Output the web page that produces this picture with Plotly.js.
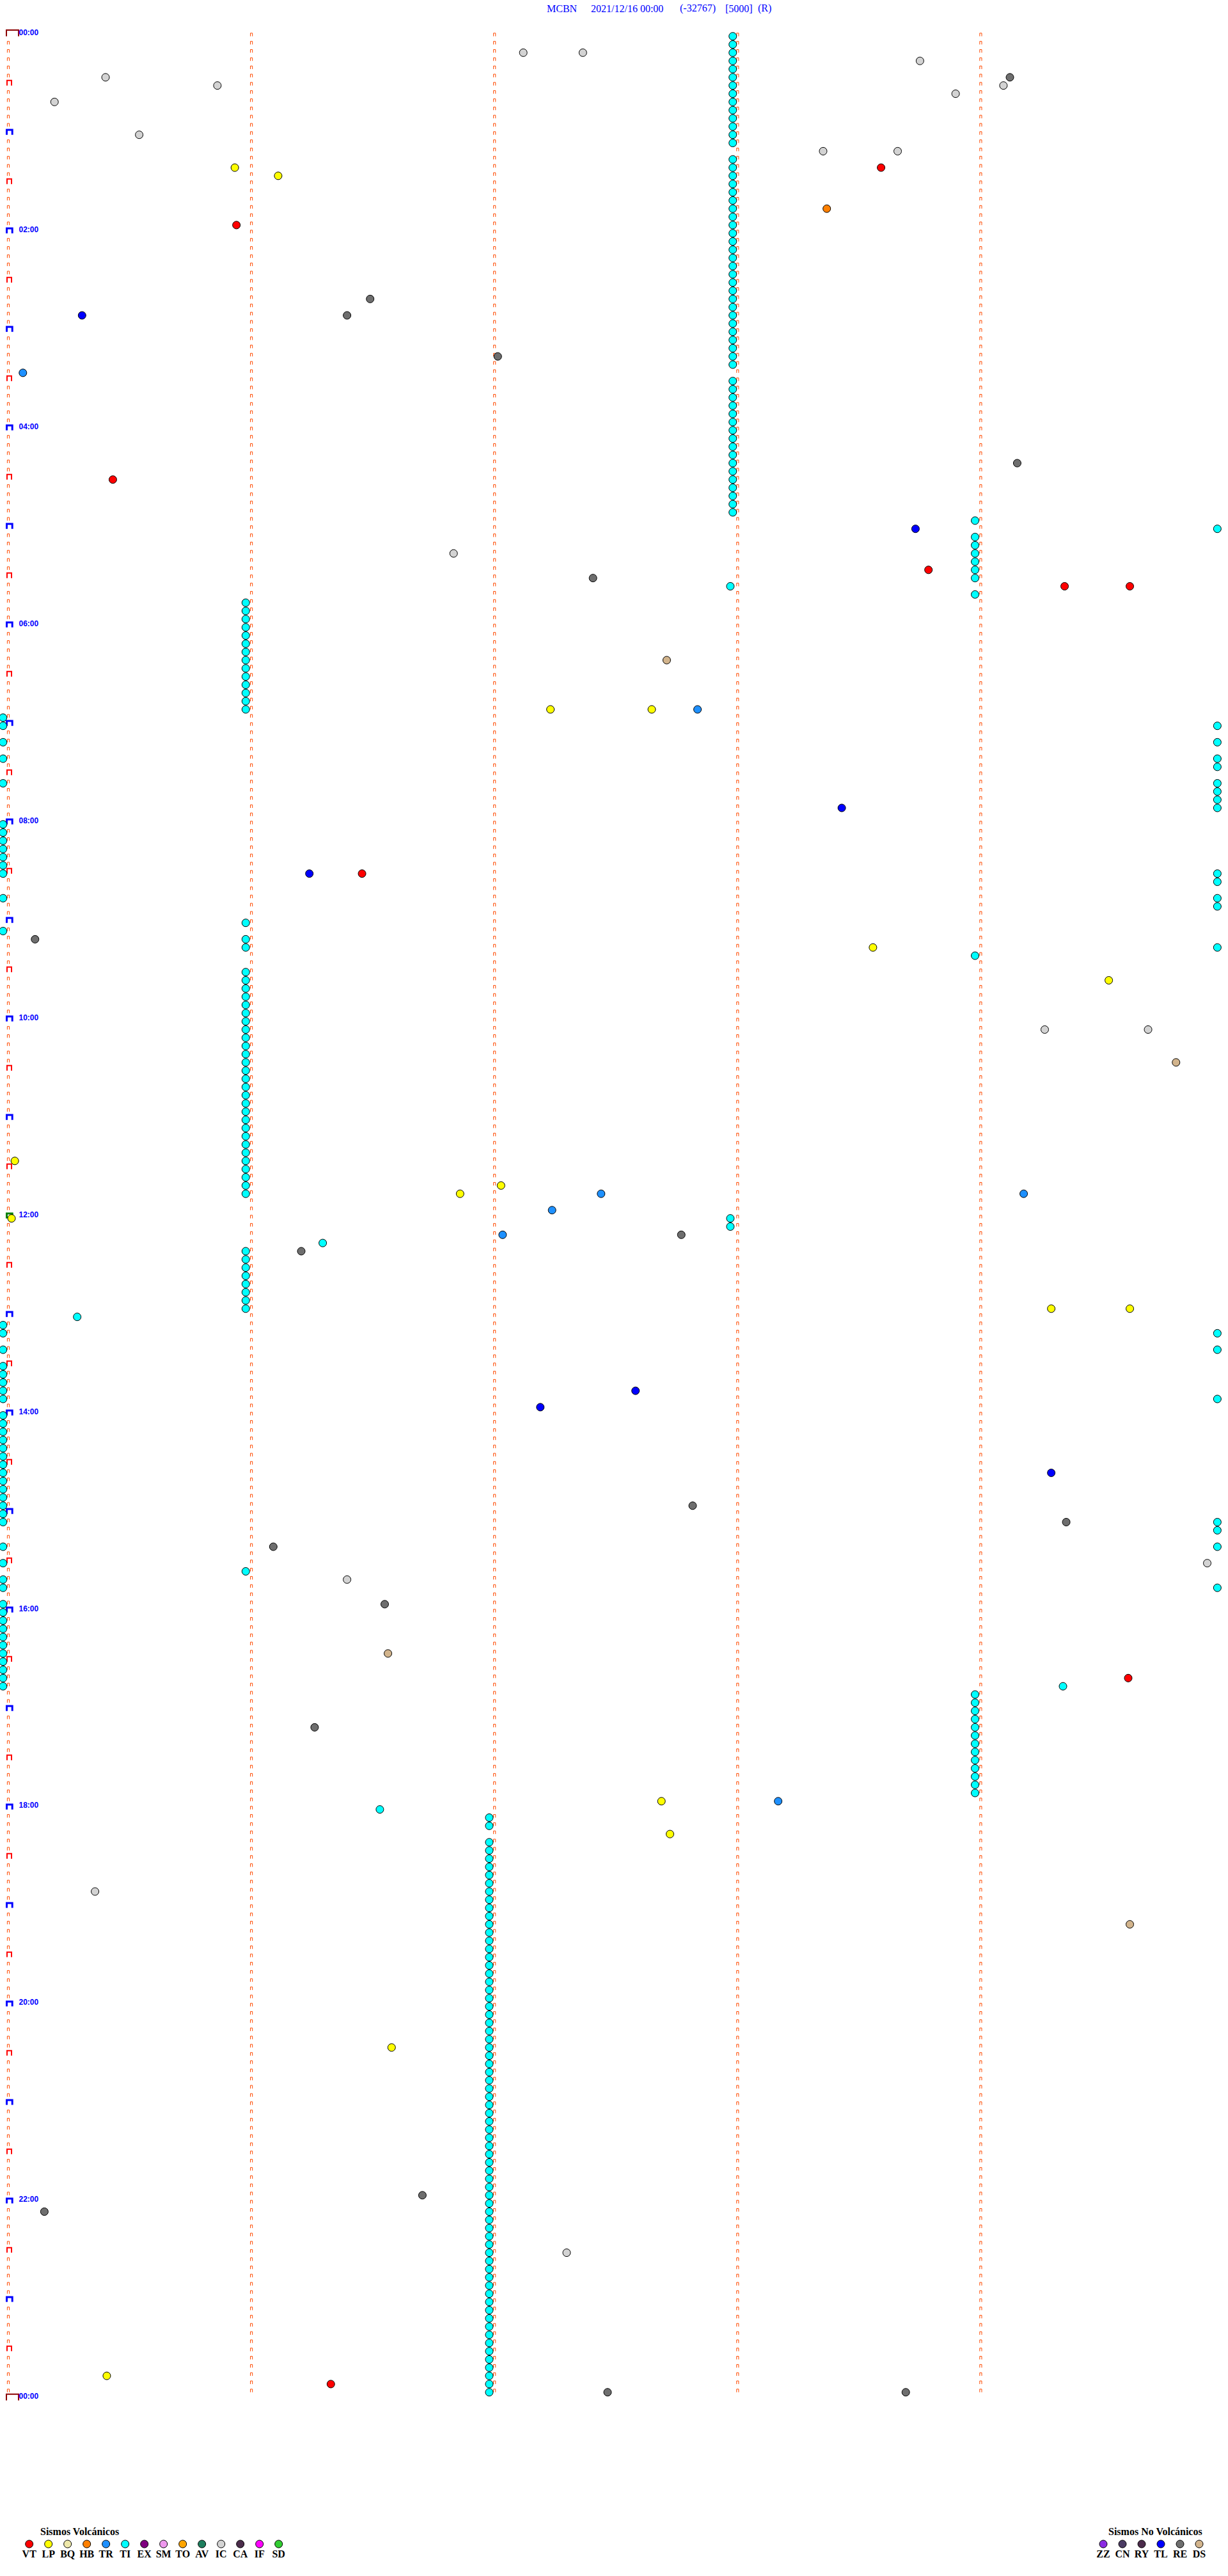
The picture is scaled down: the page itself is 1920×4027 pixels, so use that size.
<!DOCTYPE html>
<html><head><meta charset="utf-8">
<script src="https://cdn.plot.ly/plotly-3.0.1.min.js"></script>
<style>html,body{margin:0;padding:0;background:#fff}#chart{width:1920px;height:4027px}</style>
</head><body><div id="chart"></div>
<script>
// ---------------- data ----------------
const titleParts = ['MCBN', '2021/12/16 00:00', '(-32767)', '[5000]', '(R)'];
const hourLabels = ['00:00','02:00','04:00','06:00','08:00','10:00','12:00','14:00','16:00','18:00','20:00','22:00','00:00'];
const hourLabelRows = [0,24,48,72,96,120,144,168,192,216,240,264,288];
const guideMinutes = [0,1,2,3,4];

const volcanicTypes  = ['VT','LP','BQ','HB','TR','TI','EX','SM','TO','AV','IC','CA','IF','SD'];
const volcanicColors = ['#FF0000','#FFFF00','#EEE8AA','#FF8000','#1E90FF','#00FFFF','#800080','#EE99EE','#FFA500','#1F7F5F','#D3D3D3','#4B2D4B','#FF00FF','#32CD32'];
const nonVolcanicTypes  = ['ZZ','CN','RY','TL','RE','DS'];
const nonVolcanicColors = ['#8A2BE2','#4B3B63','#4B2B4B','#0000FF','#6E6E6E','#D2B48C'];

// events: row = 5-minute line of the day, sec = seconds within that line
const VT_rows = [16,23,54,65,67,67,102,200,286];
const VT_secs = [215.4,56.3,25.8,227.1,260.7,276.8,87.3,276.4,79.6];
const LP_rows = [16,17,82,82,111,115,137,140,141,144,155,155,215,219,245,285];
const LP_secs = [55.9,66.6,133.8,158.8,213.4,271.6,1.6,121.6,111.5,0.8,257.4,276.8,161.2,163.3,94.6,24.3];
const HB_rows = [21];
const HB_secs = [202.0];
const TR_rows = [41,82,141,141,143,146,215];
const TR_secs = [3.6,170.1,146.3,250.6,134.2,122.0,190.0];
const IC_rows = [2,2,3,5,6,6,7,8,12,14,14,63,121,121,186,188,226,270];
const IC_secs = [127.1,141.8,225.0,24.0,51.6,245.6,233.8,11.4,32.3,201.1,219.5,109.9,255.8,281.3,295.9,83.6,21.4,137.8];
const TL_rows = [34,60,94,102,165,167,175];
const TL_secs = [18.2,223.9,205.7,74.3,154.8,131.3,257.4];
const RE_rows = [5,32,34,39,52,66,110,146,148,179,181,184,191,206,263,265,287,287];
const RE_secs = [247.2,89.3,83.6,120.8,249.0,144.3,6.6,166.1,72.3,168.9,261.1,65.4,92.9,75.6,102.2,8.9,147.9,221.5];
const DS_rows = [76,125,197,230];
const DS_secs = [162.5,288.2,93.7,276.8];

// TI events, grouped by the second at which they repeat
const TI_groupSecs = [178.8, 178.2, 58.6, -1.3, 298.4, 238.6, 118.7, 17.0, 77.6, 91.7, 260.3];
const TI_groupRows = [
  [0,1,2,3,4,5,6,7,8,9,10,11,12,13,15,16,17,18,19,20,21,22,23,24,25,26,27,28,29,30,31,32,33,34,35,36,37,38,39,40,42,43,44,45,46,47,48,49,50,51,52,53,54,55,56,57,58],
  [67,144,145],
  [69,70,71,72,73,74,75,76,77,78,79,80,81,82,108,110,111,114,115,116,117,118,119,120,121,122,123,124,125,126,127,128,129,130,131,132,133,134,135,136,137,138,139,140,141,148,149,150,151,152,153,154,155,187],
  [83,84,86,88,91,96,97,98,99,100,101,102,105,109,157,158,160,162,163,164,165,166,168,169,170,171,172,173,174,175,176,177,178,179,180,181,184,186,188,189,191,192,193,194,195,196,197,198,199,200,201],
  [60,84,86,88,89,91,92,93,94,102,103,105,106,111,158,160,166,181,182,184,189],
  [59,61,62,63,64,65,66,68,112,202,203,204,205,206,207,208,209,210,211,212,213,214],
  [217,218,220,221,222,223,224,225,226,227,228,229,230,231,232,233,234,235,236,237,238,239,240,241,242,243,244,245,246,247,248,249,250,251,252,253,254,255,256,257,258,259,260,261,262,263,264,265,266,267,268,269,270,271,272,273,274,275,276,277,278,279,280,281,282,283,284,285,286,287],
  [156],[147],[216],[201]
];

// ---------------- geometry (layout only) ----------------
const W = 1920, H = 4027;
const X0_PX = 13, PX_PER_SEC = 6.335;   // second 0 of a line at x=13px
const Y0_PX = 56.7, ROW_PX = 12.833;    // row 0 at y=56.7px
const ROWS = 288;
const px = x => x / W;
const py = y => 1 - y / H;

function bracketPath(rows, cols, x0, x1, top) {
  const xs = [], ys = [];
  rows.forEach(r => cols.forEach(c => {
    const b = c * 60;
    xs.push(b + x0, b + x0, b + x1, b + x1, null);
    ys.push(r, r + top, r + top, r, null);
  }));
  return {xs, ys};
}

const allRows = [];
for (let r = 0; r < ROWS; r++) allRows.push(r);
const col0Rows = allRows.filter(r => r % 6 !== 0);
const halfRows = allRows.filter(r => r % 12 === 6);
const hourRows = allRows.filter(r => r % 12 === 0 && r !== 0 && r !== 144);
const noonRows = [144];
const dayEdgeRows = [0, ROWS];

const traces = [];
const small0 = bracketPath(col0Rows, [0], -0.25, 0.25, -0.38);
const smallN = bracketPath(allRows, guideMinutes.slice(1), -0.25, 0.25, -0.38);
traces.push({type:'scatter', mode:'lines', x: small0.xs.concat(smallN.xs), y: small0.ys.concat(smallN.ys),
  line:{color:'#FF4A00', width:1}, hoverinfo:'skip', connectgaps:false, cliponaxis:false});
const half = bracketPath(halfRows, [0], -0.32, 0.79, -0.62);
traces.push({type:'scatter', mode:'lines', x: half.xs, y: half.ys, line:{color:'#FF0000', width:2}, hoverinfo:'skip', cliponaxis:false});
const hour = bracketPath(hourRows, [0], -0.39, 0.98, -0.6);
traces.push({type:'scatter', mode:'lines', x: hour.xs, y: hour.ys, line:{color:'#0000FF', width:3}, hoverinfo:'skip', cliponaxis:false});
const noon = bracketPath(noonRows, [0], -0.39, 0.98, -0.6);
traces.push({type:'scatter', mode:'lines', x: noon.xs, y: noon.ys, line:{color:'#008000', width:3}, hoverinfo:'skip', cliponaxis:false});
const edge = bracketPath(dayEdgeRows, [0], -0.47, 2.53, -0.76);
traces.push({type:'scatter', mode:'lines', x: edge.xs, y: edge.ys, line:{color:'#8B0000', width:2}, hoverinfo:'skip', cliponaxis:false});

// hour labels
traces.push({type:'scatter', mode:'text', x: hourLabelRows.map(() => 2.6), y: hourLabelRows.map(r => r - 0.4),
  text: hourLabels, textposition:'middle right',
  textfont:{family:'Liberation Sans, Arial, sans-serif', size:12, color:'#0000FF', weight:'bold'},
  hoverinfo:'skip', cliponaxis:false});

// events
const colorOf = t => {
  let i = volcanicTypes.indexOf(t);
  if (i >= 0) return volcanicColors[i];
  return nonVolcanicColors[nonVolcanicTypes.indexOf(t)];
};
function eventTrace(type, rows, secs) {
  return {type:'scatter', mode:'markers', name:type, x: secs, y: rows,
    marker:{size:12, color: colorOf(type), line:{color:'#000', width:1}},
    cliponaxis:false, hovertemplate: type + ' %{y}/%{x}<extra></extra>'};
}
const tiRows = [], tiSecs = [];
TI_groupRows.forEach((rows, g) => rows.forEach(r => { tiRows.push(r); tiSecs.push(TI_groupSecs[g]); }));
traces.push(eventTrace('TI', tiRows, tiSecs));
traces.push(eventTrace('IC', IC_rows, IC_secs));
traces.push(eventTrace('RE', RE_rows, RE_secs));
traces.push(eventTrace('DS', DS_rows, DS_secs));
traces.push(eventTrace('TR', TR_rows, TR_secs));
traces.push(eventTrace('TL', TL_rows, TL_secs));
traces.push(eventTrace('HB', HB_rows, HB_secs));
traces.push(eventTrace('LP', LP_rows, LP_secs));
traces.push(eventTrace('VT', VT_rows, VT_secs));

// legends (drawn on their own small category axes)
const legendFont = {family:'Liberation Serif, Times New Roman, serif', size:16, color:'#000', weight:'bold'};
traces.push({type:'scatter', mode:'markers+text', xaxis:'x2', yaxis:'y2', x: volcanicTypes, y: volcanicTypes.map(() => 0),
  text: volcanicTypes, textposition:'bottom center', textfont: legendFont,
  marker:{size:12, color: volcanicColors, line:{color:'#000', width:1}}, hoverinfo:'skip', cliponaxis:false});
traces.push({type:'scatter', mode:'markers+text', xaxis:'x3', yaxis:'y3', x: nonVolcanicTypes, y: nonVolcanicTypes.map(() => 0),
  text: nonVolcanicTypes, textposition:'bottom center', textfont: legendFont,
  marker:{size:12, color: nonVolcanicColors, line:{color:'#000', width:1}}, hoverinfo:'skip', cliponaxis:false});

// title pieces
const titleX = [854, 923, 1062, 1133, 1184];
const annotations = titleParts.map((t, i) => ({
  text: t, xref:'paper', yref:'paper', x: px(titleX[i]), y: py(13), xanchor:'left', yanchor:'middle',
  showarrow:false, borderpad:0, font:{family:'Liberation Serif, Times New Roman, serif', size:16, color:'#0000FF'}
}));
annotations.push({text:'Sismos Volcánicos', xref:'paper', yref:'paper', x: px(124), y: py(3957), xanchor:'center', yanchor:'middle',
  showarrow:false, font: legendFont});
annotations.push({text:'Sismos No Volcánicos', xref:'paper', yref:'paper', x: px(1806), y: py(3957), xanchor:'center', yanchor:'middle',
  showarrow:false, font: legendFont});

const hidden = {visible:false, showgrid:false, zeroline:false, fixedrange:true};
const layout = {
  width: W, height: H, margin:{l:0, r:0, t:0, b:0, pad:0},
  paper_bgcolor:'#FFFFFF', plot_bgcolor:'#FFFFFF', showlegend:false,
  xaxis: Object.assign({}, hidden, {range:[-X0_PX / PX_PER_SEC, (W - X0_PX) / PX_PER_SEC], domain:[0,1]}),
  yaxis: Object.assign({}, hidden, {range:[(H - Y0_PX) / ROW_PX, -Y0_PX / ROW_PX], domain:[0,1]}),
  xaxis2: Object.assign({}, hidden, {type:'category', range:[-0.5, 13.5], domain:[px(30.7), px(450.7)], anchor:'y2'}),
  yaxis2: Object.assign({}, hidden, {range:[-1, 1], domain:[py(3997), py(3957)], anchor:'x2'}),
  xaxis3: Object.assign({}, hidden, {type:'category', range:[-0.5, 5.5], domain:[px(1710), px(1890)], anchor:'y3'}),
  yaxis3: Object.assign({}, hidden, {range:[-1, 1], domain:[py(3997), py(3957)], anchor:'x3'}),
  annotations: annotations
};
Plotly.newPlot('chart', traces, layout, {staticPlot:true, displayModeBar:false});
</script></body></html>
